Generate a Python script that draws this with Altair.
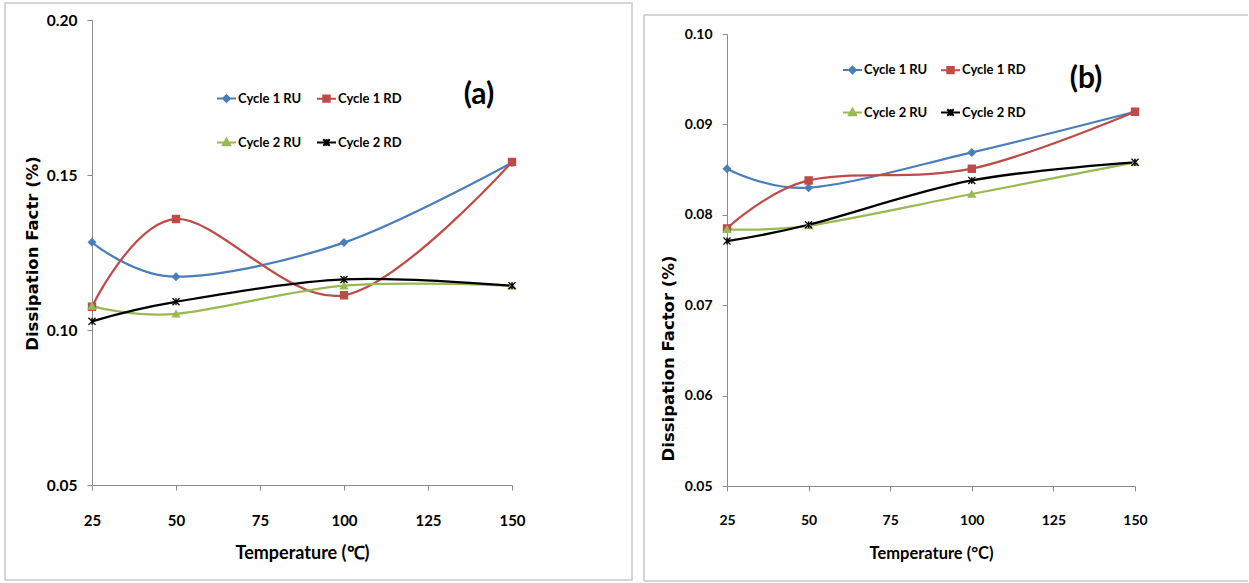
import altair as alt
import pandas as pd

# Measurement temperatures (°C) and the four heating/cooling runs
temperature = [25, 50, 100, 150]
series_names = ["Cycle 1 RU", "Cycle 1 RD", "Cycle 2 RU", "Cycle 2 RD"]
series_colors = ["#4a7ebb", "#be4b48", "#98b954", "#000000"]

# Panel (a): dissipation factor (%)
a_cycle1_ru = [0.1283, 0.1172, 0.1282, 0.1540]
a_cycle1_rd = [0.1075, 0.1358, 0.1112, 0.1542]
a_cycle2_ru = [0.1077, 0.1052, 0.1143, 0.1143]
a_cycle2_rd = [0.1028, 0.1091, 0.1163, 0.1143]

# Panel (b): dissipation factor (%)
b_cycle1_ru = [0.0851, 0.0830, 0.0869, 0.0914]
b_cycle1_rd = [0.0785, 0.0838, 0.0851, 0.0914]
b_cycle2_ru = [0.0784, 0.0788, 0.0823, 0.0858]
b_cycle2_rd = [0.0771, 0.0789, 0.0838, 0.0858]

x_ticks = [25, 50, 75, 100, 125, 150]
a_y_ticks = [0.05, 0.10, 0.15, 0.20]
b_y_ticks = [0.05, 0.06, 0.07, 0.08, 0.09, 0.10]

# Plot markers, and legend keys (a short line segment with the marker on it)
marker_shapes = ["diamond", "square", "triangle-up", "M-1,-1L1,1M-1,1L1,-1M0,-1L0,1"]
legend_shapes = [
    "M-1,0H1M0,-0.36L0.36,0L0,0.36L-0.36,0Z",
    "M-1,0H1M-0.34,-0.34H0.34V0.34H-0.34Z",
    "M-1,0H1M0,-0.4L0.38,0.3H-0.38Z",
    "M-1,0H1M-0.34,-0.34L0.34,0.34M-0.34,0.34L0.34,-0.34M0,-0.38V0.38",
]

AXIS_GRAY = "#8a8a8a"
BOX_GRAY = "#c9c9c9"


def long_frame(runs):
    rows = []
    for name, values in zip(series_names, runs):
        for t, v in zip(temperature, values):
            rows.append({"temp": t, "df": v, "series": name})
    return pd.DataFrame(rows)


def panel(df, y_domain, y_range, y_ticks, y_title, x_title, tag, o):
    x = alt.X(
        "temp:Q",
        scale=alt.Scale(domain=[25, 150], nice=False, zero=False),
        axis=alt.Axis(
            values=x_ticks, title=x_title, grid=False, labelFlush=False,
            labelFont="Lato", labelFontWeight="bold", labelFontSize=o["xlab_size"],
            labelColor="black", labelPadding=o["xlab_pad"],
            tickSize=5, tickColor=AXIS_GRAY, domainColor=AXIS_GRAY,
            titleFont="Lato", titleFontWeight="bold", titleFontSize=o["xtitle_size"],
            titleColor="black", titleY=o["xtitle_y"], titleBaseline="middle",
        ),
    )
    y = alt.Y(
        "df:Q",
        scale=alt.Scale(domain=y_domain, range=y_range, nice=False, zero=False),
        axis=alt.Axis(
            values=y_ticks, format=".2f", title=y_title, grid=False,
            labelFont="Lato", labelFontWeight="bold", labelFontSize=o["ylab_size"],
            labelColor="black", labelPadding=o["ylab_pad"],
            tickSize=5, tickColor=AXIS_GRAY, domainColor=AXIS_GRAY,
            titleFont="DejaVu Sans", titleFontWeight="bold", titleFontSize=o["ytitle_size"],
            titleColor="black", titleAngle=270, titleX=o["ytitle_x"], titleY=o["ytitle_y"],
            titleAlign="center", titleBaseline="middle",
        ),
    )
    color_scale = alt.Scale(domain=series_names, range=series_colors)

    lines = alt.Chart(df).mark_line(interpolate="cardinal", strokeWidth=2.25).encode(
        x=x, y=y, color=alt.Color("series:N", scale=color_scale, legend=None)
    )
    points = alt.Chart(df).mark_point(filled=True, size=50, opacity=1, strokeWidth=1.3).encode(
        x=x, y=y,
        shape=alt.Shape("series:N", scale=alt.Scale(domain=series_names, range=marker_shapes), legend=None),
        fill=alt.Fill("series:N", scale=color_scale, legend=None),
        stroke=alt.Stroke("series:N", scale=color_scale, legend=None),
    )

    key_legend = alt.Legend(
        title=None, orient="none", legendX=o["leg_x"], legendY=o["leg_y"],
        direction="horizontal", columns=2, padding=0, symbolSize=361, symbolStrokeWidth=2,
        labelFont="Lato", labelFontWeight="bold", labelFontSize=13, labelColor="black",
        labelOffset=1, labelLimit=0, columnPadding=o["leg_colpad"], rowPadding=o["leg_rowpad"],
    )
    key = alt.Chart(df).transform_filter("false").mark_point(
        filled=True, opacity=1, strokeWidth=2
    ).encode(
        shape=alt.Shape("series:N", scale=alt.Scale(domain=series_names, range=legend_shapes), legend=key_legend),
        fill=alt.Fill("series:N", scale=color_scale, legend=key_legend),
        stroke=alt.Stroke("series:N", scale=color_scale, legend=key_legend),
    )

    tag_text = alt.Chart(alt.Data(values=[{}])).mark_text(
        font="Lato", fontWeight="bold", fontSize=30, color="black",
        align="center", baseline="middle",
    ).encode(x=alt.value(o["tag_x"]), y=alt.value(o["tag_y"]), text=alt.value(tag))

    return [lines, points, key, tag_text]


df_a = long_frame([a_cycle1_ru, a_cycle1_rd, a_cycle2_ru, a_cycle2_rd])
df_b = long_frame([b_cycle1_ru, b_cycle1_rd, b_cycle2_ru, b_cycle2_rd])

WA, HA = 420, 465
# panel (b) shares the top edge of panel (a); its value axis starts 14 px lower
WB, HB = 408, 466
B_TOP = 14

layers_a = panel(
    df_a, [0.05, 0.20], [HA, 0], a_y_ticks, "Dissipation Factr (%)", "Temperature (\u2103)", "(a)",
    dict(xlab_size=15, xlab_pad=23, xtitle_size=18, xtitle_y=68,
         ylab_size=15.5, ylab_pad=10, ytitle_size=16.5, ytitle_x=-60, ytitle_y=233,
         leg_x=124, leg_y=68, leg_colpad=11, leg_rowpad=26, tag_x=387, tag_y=75),
)
layers_b = panel(
    df_b, [0.05, 0.10], [HB, B_TOP], b_y_ticks, "Dissipation Factor (%)", "Temperature (\u00b0C)", "(b)",
    dict(xlab_size=14, xlab_pad=22, xtitle_size=16.5, xtitle_y=67,
         ylab_size=14, ylab_pad=10, ytitle_size=16.5, ytitle_x=-59, ytitle_y=338,
         leg_x=115, leg_y=39.5, leg_colpad=9, leg_rowpad=24.5, tag_x=359, tag_y=59),
)

one_row = alt.Data(values=[{}])

# Chart-area frames around each panel
frame_a = alt.Chart(one_row).mark_rect(fillOpacity=0, stroke=BOX_GRAY, strokeWidth=1.5).encode(
    x=alt.value(-87), x2=alt.value(WA + 120), y=alt.value(-17), y2=alt.value(HA + 95)
)
frame_b_left = alt.Chart(one_row).mark_rule(color=BOX_GRAY, strokeWidth=1.5).encode(
    x=alt.value(-83), y=alt.value(-5), y2=alt.value(HB + 95)
)
frame_b_top = alt.Chart(one_row).mark_rule(color=BOX_GRAY, strokeWidth=1.5).encode(
    x=alt.value(-83), x2=alt.value(521), y=alt.value(-5)
)
frame_b_bottom = alt.Chart(one_row).mark_rule(color=BOX_GRAY, strokeWidth=1.5).encode(
    x=alt.value(-83), x2=alt.value(521), y=alt.value(HB + 95)
)

chart_a = alt.layer(frame_a, *layers_a).resolve_scale(
    shape="independent", fill="independent", stroke="independent"
).properties(width=WA, height=HA)

chart_b = alt.layer(frame_b_left, frame_b_top, frame_b_bottom, *layers_b).resolve_scale(
    shape="independent", fill="independent", stroke="independent"
).properties(width=WB, height=HB)

chart = alt.hconcat(chart_a, chart_b, spacing=10).properties(
    padding={"left": 4, "top": 2, "right": 0, "bottom": 0},
    background="white",
).configure_view(stroke=None)

chart.save("out.html", embed_options={"renderer": "svg", "actions": False})
